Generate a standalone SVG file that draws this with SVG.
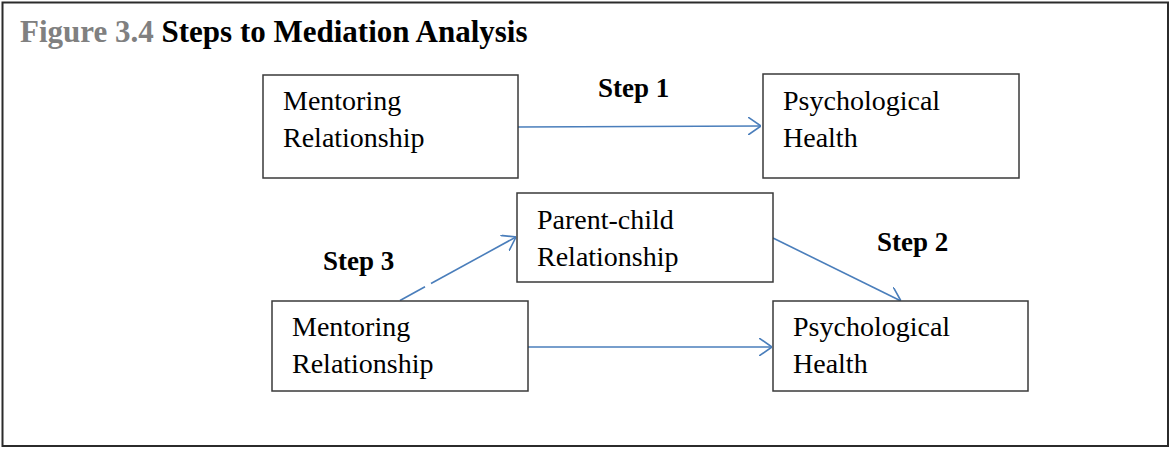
<svg xmlns="http://www.w3.org/2000/svg" width="1171" height="449" viewBox="0 0 1171 449">
  <style>
    .frame { fill: #ffffff; stroke: #2b2b2b; stroke-width: 2; }
    .box { fill: #ffffff; stroke: #3a3a3a; stroke-width: 1.5; }
    .label { font-family: "Liberation Serif", "Times New Roman", serif; font-size: 28px; fill: #000000; }
    .step { font-family: "Liberation Serif", "Times New Roman", serif; font-size: 27px; font-weight: bold; fill: #000000; }
    .title { font-family: "Liberation Serif", "Times New Roman", serif; font-size: 31px; font-weight: bold; }
    .edge { fill: none; stroke: #4a7ebb; stroke-width: 1.6; }
  </style>
  <defs>
    <marker id="chevron" viewBox="0 0 13 18" refX="13" refY="9" markerWidth="13" markerHeight="18" markerUnits="userSpaceOnUse" orient="auto">
      <path d="M0,0 L13,9 L0,18" fill="none" stroke="#4a7ebb" stroke-width="1.6"/>
    </marker>
  </defs>

  <rect class="frame" x="2.5" y="2.5" width="1165.5" height="443.5"/>

  <text class="title" x="20" y="42"><tspan fill="#808080">Figure 3.4</tspan><tspan fill="#000000"> Steps to Mediation Analysis</tspan></text>

  <g id="connectors">
    <line class="edge" x1="518" y1="127" x2="761" y2="126" marker-end="url(#chevron)"/>
    <line class="edge" x1="400" y1="300.5" x2="425" y2="286.8"/>
    <line class="edge" x1="431" y1="283.5" x2="516" y2="237" marker-end="url(#chevron)"/>
    <line class="edge" x1="773" y1="238" x2="901" y2="301" marker-end="url(#chevron)"/>
    <line class="edge" x1="528" y1="347" x2="772" y2="347" marker-end="url(#chevron)"/>
  </g>

  <g id="mentoring-top">
    <rect class="box" x="263" y="75" width="255" height="103"/>
    <text class="label" x="283" y="110">Mentoring</text>
    <text class="label" x="283" y="147">Relationship</text>
  </g>

  <g id="health-top">
    <rect class="box" x="763" y="74" width="256" height="104"/>
    <text class="label" x="783" y="110">Psychological</text>
    <text class="label" x="783" y="147">Health</text>
  </g>

  <g id="parent-child">
    <rect class="box" x="517" y="193" width="256" height="89"/>
    <text class="label" x="537" y="229">Parent-child</text>
    <text class="label" x="537" y="266">Relationship</text>
  </g>

  <g id="mentoring-bottom">
    <rect class="box" x="272" y="301" width="256" height="90"/>
    <text class="label" x="292" y="336">Mentoring</text>
    <text class="label" x="292" y="373">Relationship</text>
  </g>

  <g id="health-bottom">
    <rect class="box" x="773" y="301" width="255" height="90"/>
    <text class="label" x="793" y="336">Psychological</text>
    <text class="label" x="793" y="373">Health</text>
  </g>

  <g id="step-labels">
    <text class="step" x="598" y="97">Step 1</text>
    <text class="step" x="877" y="251">Step 2</text>
    <text class="step" x="323" y="270">Step 3</text>
  </g>
</svg>
